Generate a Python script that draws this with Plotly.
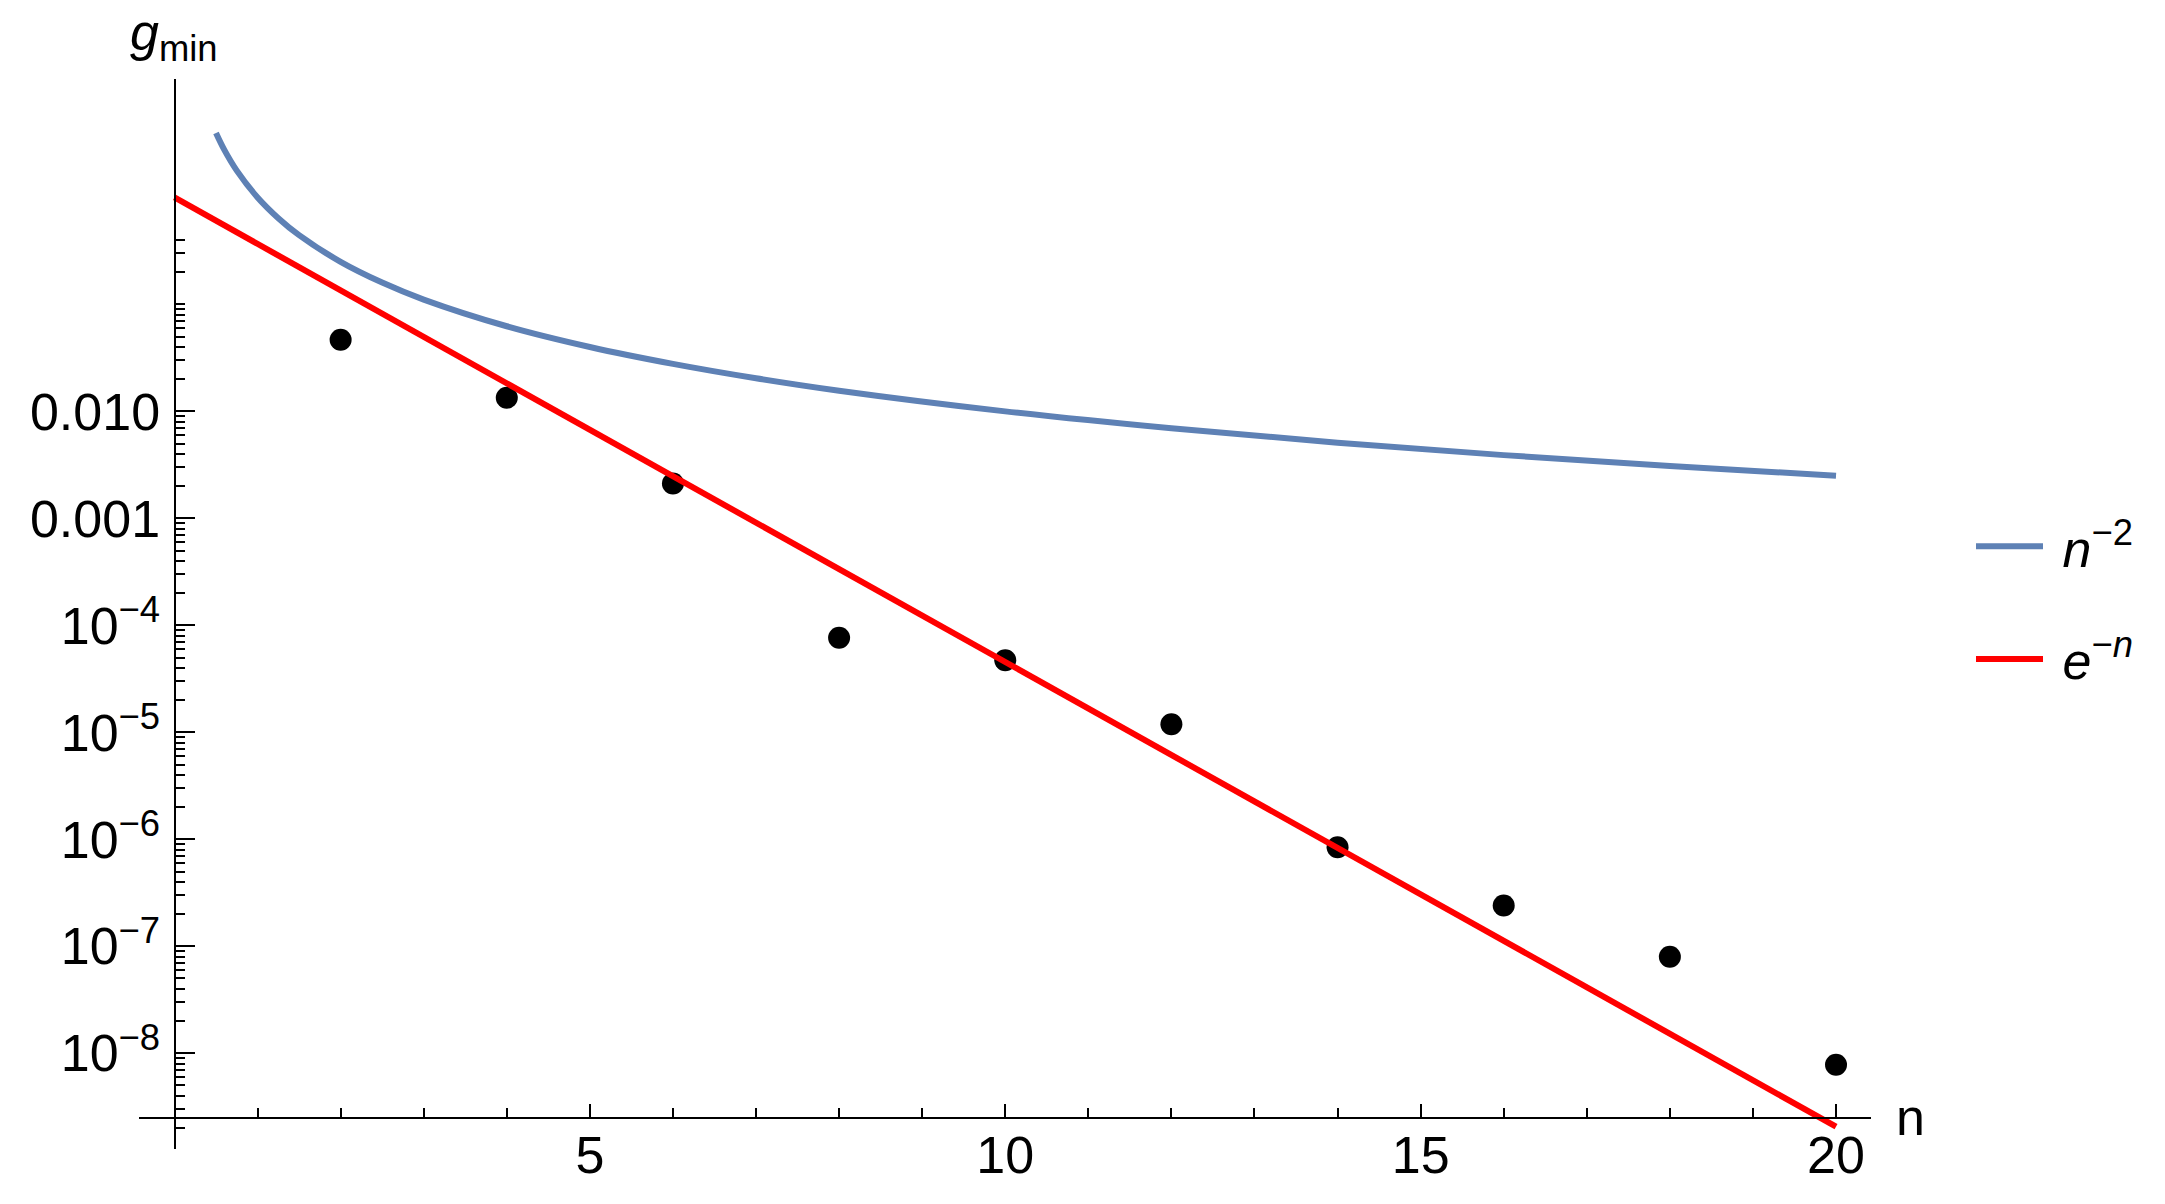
import plotly.graph_objects as go

# ---- data ----
n_points = [2, 4, 6, 8, 10, 12, 14, 16, 18, 20]
g_min = [0.0468, 0.0134, 0.00212, 7.66e-5, 4.71e-5, 1.19e-5, 8.41e-7, 2.41e-7, 7.98e-8, 7.81e-9]

n_blue = [0.5, 0.6, 0.75, 1, 1.25, 1.5, 2, 2.5, 3, 4, 5, 6, 7, 8, 10, 12, 14, 16, 18, 20]
g_blue = [4.0, 2.78, 1.78, 1.0, 0.64, 0.444, 0.25, 0.16, 0.111, 0.0625, 0.04, 0.0278,
          0.0204, 0.0156, 0.01, 0.00694, 0.0051, 0.0039, 0.00309, 0.0025]

n_red = [0, 10, 20]
g_red = [1.0, 4.54e-5, 2.06e-9]

y_tickvals = [1e-2, 1e-3, 1e-4, 1e-5, 1e-6, 1e-7, 1e-8]
y_ticktext = ["0.010", "0.001", "10<sup>\u22124</sup>", "10<sup>\u22125</sup>",
              "10<sup>\u22126</sup>", "10<sup>\u22127</sup>", "10<sup>\u22128</sup>"]
x_tickvals = [5, 10, 15, 20]
x_ticktext = ["5", "10", "15", "20"]

FONT = "Liberation Sans, Arial, sans-serif"

y_minor = []
for d in range(-9, 0):
    for k in range(2, 10):
        v = k * 10.0 ** d
        if 1.9e-9 <= v <= 0.41:
            y_minor.append(v)
y_minor.append(0.1)
x_minor = [i for i in range(1, 21) if i not in x_tickvals]

fig = go.Figure()
fig.add_trace(go.Scatter(x=n_points, y=g_min, mode="markers",
                         marker=dict(color="black", size=22), showlegend=False))
fig.add_trace(go.Scatter(x=n_blue, y=g_blue, mode="lines", line=dict(color="#5E81B5", width=6, shape="spline"),
                         name="\u00a0<i>n</i><sup>\u22122</sup>", legendgroup="a"))
fig.add_trace(go.Scatter(x=n_red, y=g_red, mode="lines", line=dict(color="#FF0000", width=6),
                         name="\u00a0<i>e</i><sup>\u2212<i>n</i></sup>", legendgroup="b"))

# the page body adds an 8px offset; layout numbers below are in figure pixels
OFF = 8
W, H = 2165 - 2 * OFF, 1204 - 2 * OFF
L, R, T, B = 139 - OFF, 1871 - OFF, 79 - OFF, 1149 - OFF
pw, ph = R - L, B - T
x0px = 174.5 - OFF
xaxis_px = 1117.7 - OFF

fig.update_layout(
    width=W, height=H,
    margin=dict(l=L, r=W - R, t=T, b=H - B, pad=0, autoexpand=False),
    paper_bgcolor="white", plot_bgcolor="white",
    font=dict(family=FONT, size=52, color="black"),
    xaxis=dict(range=[-0.427, 20.421], showgrid=False, zeroline=False, automargin=False,
               showline=True, linecolor="black", linewidth=2,
               tickmode="array", tickvals=x_tickvals, ticktext=x_ticktext,
               ticks="inside", ticklen=13, tickwidth=1.5, tickcolor="black",
               ticklabelstandoff=-8,
               minor=dict(tickmode="array", tickvals=x_minor, ticks="inside", ticklen=8.5,
                          tickwidth=1.5, tickcolor="black", showgrid=False),
               anchor="free", position=(B - xaxis_px) / ph,
               tickfont=dict(family=FONT, size=52, color="black")),
    yaxis=dict(type="log", range=[-8.895, 1.107], showgrid=False, zeroline=False, automargin=False,
               showline=True, linecolor="black", linewidth=2,
               tickmode="array", tickvals=y_tickvals, ticktext=y_ticktext,
               ticks="inside", ticklen=19, tickwidth=1.5, tickcolor="black",
               ticklabelstandoff=3,
               minor=dict(tickmode="array", tickvals=y_minor, ticks="inside", ticklen=9,
                          tickwidth=1.5, tickcolor="black", showgrid=False),
               anchor="free", position=(x0px - L) / pw,
               tickfont=dict(family=FONT, size=52, color="black")),
    legend=dict(xref="container", yref="container", x=(1971 - OFF) / W, y=(H - (603 - OFF)) / H,
                xanchor="left", yanchor="middle",
                font=dict(family=FONT, size=52, color="black"),
                bgcolor="rgba(0,0,0,0)", itemwidth=67, tracegroupgap=42,
                traceorder="grouped"),
    showlegend=True,
)

fig.add_annotation(text="<i>g</i><sub>min</sub>", xref="paper", yref="paper",
                   x=(173.5 - OFF - L) / pw, y=(B - (36 - OFF)) / ph, xanchor="center", yanchor="middle",
                   showarrow=False, font=dict(family=FONT, size=52, color="black"))
fig.add_annotation(text="n", xref="paper", yref="paper",
                   x=(1911 - OFF - L) / pw, y=(B - (1117 - OFF)) / ph, xanchor="center", yanchor="middle",
                   showarrow=False, font=dict(family=FONT, size=52, color="black"))

fig.write_html("out.html")
